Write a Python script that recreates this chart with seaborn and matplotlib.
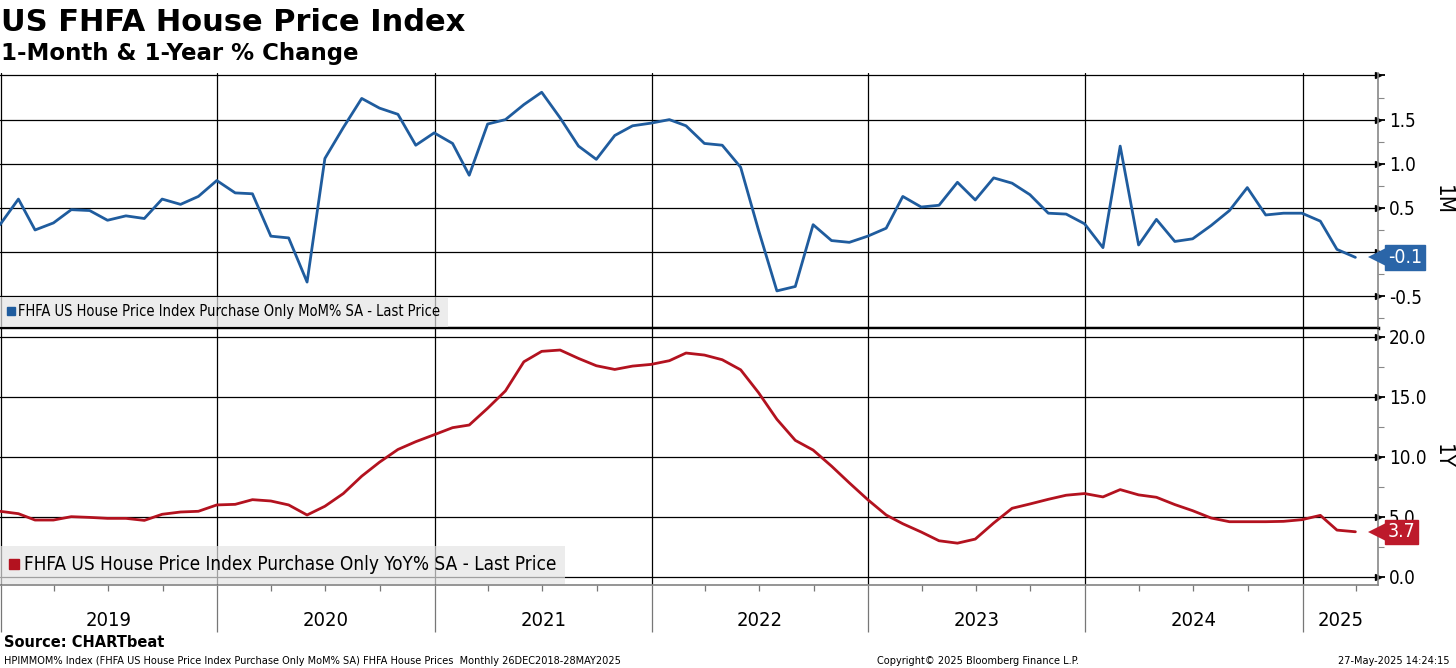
import pandas as pd
import matplotlib
matplotlib.use('Agg')
import matplotlib.pyplot as plt
import matplotlib.dates as mdates
import matplotlib.transforms as mtransforms
from matplotlib import font_manager as fm
from matplotlib.lines import Line2D
import seaborn as sns

# --- dados ---
meses = pd.date_range(start='2018-12-01', periods=76, freq='MS') + pd.offsets.MonthEnd(0)

mom = [0.31, 0.60, 0.25, 0.33, 0.48, 0.47, 0.36, 0.41, 0.38, 0.60, 0.54, 0.63,
       0.81, 0.67, 0.66, 0.18, 0.16, -0.34, 1.06, 1.41, 1.74, 1.63, 1.56, 1.21,
       1.35, 1.23, 0.87, 1.45, 1.50, 1.67, 1.81, 1.52, 1.20, 1.05, 1.32, 1.43,
       1.46, 1.50, 1.43, 1.23, 1.21, 0.96, 0.25, -0.44, -0.39, 0.31, 0.13, 0.11,
       0.18, 0.27, 0.63, 0.51, 0.53, 0.79, 0.59, 0.84, 0.78, 0.65, 0.44, 0.43,
       0.32, 0.05, 1.20, 0.08, 0.37, 0.12, 0.15, 0.30, 0.47, 0.73, 0.42, 0.44,
       0.44, 0.35, 0.03, -0.06]

yoy = [5.45, 5.25, 4.72, 4.72, 5.00, 4.94, 4.86, 4.86, 4.69, 5.20, 5.39, 5.45,
       5.98, 6.03, 6.42, 6.31, 5.98, 5.14, 5.87, 6.93, 8.38, 9.55, 10.61, 11.26,
       11.84, 12.43, 12.65, 14.05, 15.50, 17.93, 18.80, 18.91, 18.21, 17.60, 17.29, 17.57,
       17.71, 18.02, 18.66, 18.49, 18.10, 17.26, 15.36, 13.13, 11.37, 10.56, 9.22, 7.82,
       6.42, 5.14, 4.41, 3.72, 2.99, 2.79, 3.13, 4.47, 5.70, 6.06, 6.45, 6.79,
       6.93, 6.65, 7.26, 6.82, 6.62, 6.01, 5.50, 4.89, 4.58, 4.58, 4.58, 4.61,
       4.75, 5.11, 3.88, 3.74]

anos = [2019, 2020, 2021, 2022, 2023, 2024, 2025]
ticks_mom = [-0.5, 0.0, 0.5, 1.0, 1.5, 2.0]
ticks_yoy = [0.0, 5.0, 10.0, 15.0, 20.0]

serie_mom = 'FHFA US House Price Index Purchase Only MoM% SA - Last Price'
serie_yoy = 'FHFA US House Price Index Purchase Only YoY% SA - Last Price'

AZUL = '#1f5c9e'
AZUL_TAG = '#2a65a8'
VERMELHO = '#b3121f'
VERMELHO_TAG = '#bd1a2b'

df = pd.DataFrame({'data': meses, 'mom': mom, 'yoy': yoy})

sns.set_theme(style='white')
plt.rcParams['font.family'] = ['DejaVu Sans']
plt.rcParams['text.color'] = 'black'
plt.rcParams['axes.labelcolor'] = 'black'
plt.rcParams['xtick.color'] = 'black'
plt.rcParams['ytick.color'] = 'black'


def fonte_estreita():
    nomes = [(f.name, str(f.stretch)) for f in fm.fontManager.ttflist]
    for n, s in nomes:
        if n == 'Liberation Sans Narrow':
            return {'family': 'Liberation Sans Narrow'}
    for n, s in nomes:
        if n == 'DejaVu Sans' and 'condensed' in s:
            return {'family': 'DejaVu Sans', 'stretch': 'condensed'}
    return {'family': 'DejaVu Sans'}


NARROW = fonte_estreita()

x0 = pd.Timestamp('2018-12-31')
x1 = pd.Timestamp('2025-05-08')

fig = plt.figure(figsize=(14.56, 6.68), dpi=100)
ax1 = fig.add_axes([0.0, 0.509, 0.9464, 0.382])
ax2 = fig.add_axes([0.0, 0.1243, 0.9464, 0.3847])

sns.lineplot(data=df, x='data', y='mom', ax=ax1, color=AZUL, lw=2)
sns.lineplot(data=df, x='data', y='yoy', ax=ax2, color=VERMELHO, lw=2)


def estilo(ax, ylim, major, minor, labels):
    ax.set_xlim(x0, x1)
    ax.set_ylim(*ylim)
    ax.set_xlabel('')
    ax.set_ylabel('')
    ax.yaxis.tick_right()
    ax.set_yticks(major)
    ax.set_yticks(minor, minor=True)
    ax.set_yticklabels(labels, **NARROW)
    ax.tick_params(axis='y', which='major', direction='out', length=5, width=1.3,
                   color='black', labelsize=13.5, pad=3, right=True, left=False)
    ax.tick_params(axis='y', which='minor', direction='out', length=4, width=0.8,
                   color='#888888', right=True, left=False)
    ax.grid(True, axis='y', which='major', color='black', lw=0.9)
    ax.xaxis.set_major_locator(mdates.YearLocator())
    ax.xaxis.set_minor_locator(mdates.MonthLocator(bymonth=[1, 4, 7, 10]))
    ax.grid(True, axis='x', which='major', color='black', lw=0.9)
    ax.set_xticklabels([])
    for s in ['left', 'top']:
        ax.spines[s].set_visible(False)
    ax.spines['right'].set_color('#888888')
    ax.spines['right'].set_linewidth(1.2)
    # setas nos ticks principais
    tr = mtransforms.blended_transform_factory(ax.transAxes, ax.transData)
    ax.plot([1.0] * len(major), major, ls='', marker='>', ms=4, color='black',
            transform=tr, clip_on=False)


# o 0.0 do painel de cima fica escondido atras da etiqueta do ultimo valor
estilo(ax1, (-0.86, 2.03), ticks_mom, [-0.75, -0.25, 0.25, 0.75, 1.25, 1.75],
       ['-0.5', '', '0.5', '1.0', '1.5', ''])
estilo(ax2, (-0.7, 20.75), ticks_yoy, [2.5, 7.5, 12.5, 17.5],
       ['0.0', '5.0', '10.0', '15.0', '20.0'])

ax1.tick_params(axis='x', which='both', length=0)
ax1.spines['bottom'].set_color('black')
ax1.spines['bottom'].set_linewidth(2.5)
ax2.spines['top'].set_visible(True)
ax2.spines['top'].set_color('black')
ax2.spines['top'].set_linewidth(1.0)
ax2.spines['bottom'].set_color('#888888')
ax2.tick_params(axis='x', which='major', direction='out', length=34, width=0.9,
                color='#777777', bottom=True)
ax2.tick_params(axis='x', which='minor', direction='out', length=4, width=0.9,
                color='#777777', bottom=True)

# rotulos dos anos
trx = mtransforms.blended_transform_factory(ax2.transData, ax2.transAxes)
for a in anos:
    ini = pd.Timestamp(f'{a}-01-01')
    fim = min(pd.Timestamp(f'{a + 1}-01-01'), x1)
    meio = ini + (fim - ini) / 2
    ax2.text(meio, -0.137, str(a), transform=trx, ha='center', va='center',
             fontsize=14.5, color='black', **NARROW)

# legendas
for ax, cor, nome, tam in [(ax1, AZUL, serie_mom, 10.5), (ax2, VERMELHO, serie_yoy, 13.6)]:
    h = [Line2D([], [], marker='s', ls='', color=cor, ms=tam * 0.55)]
    leg = ax.legend(h, [nome], loc='lower left', bbox_to_anchor=(0, 0.005),
                    borderaxespad=0, frameon=True, fancybox=False,
                    facecolor='#e4e4e4', framealpha=0.7, edgecolor='none',
                    handlelength=0.5, handletextpad=0.25, borderpad=0.5,
                    prop=dict(size=tam, **NARROW))

# etiquetas do ultimo valor
for ax, val, cor, txt in [(ax1, mom[-1], AZUL_TAG, f'{mom[-1]:.1f}'),
                          (ax2, yoy[-1], VERMELHO_TAG, f'{yoy[-1]:.1f}')]:
    tr = mtransforms.blended_transform_factory(ax.transAxes, ax.transData)
    ax.plot([1.0], [val], ls='', marker='<', ms=15, color=cor, transform=tr,
            clip_on=False, zorder=5, markeredgewidth=0)
    ax.annotate(txt, xy=(1.0, val), xycoords=tr, xytext=(7, 0),
                textcoords='offset points', ha='left', va='center', color='white',
                fontsize=14, annotation_clip=False, zorder=6,
                bbox=dict(boxstyle='square,pad=0.14', fc=cor, ec=cor), **NARROW)

ax1.text(1.047, 0.5, '1M', rotation=270, ha='center', va='center',
         transform=ax1.transAxes, fontsize=16, **NARROW)
ax2.text(1.047, 0.5, '1Y', rotation=270, ha='center', va='center',
         transform=ax2.transAxes, fontsize=16, **NARROW)

# titulos e rodape
fig.text(0.001, 1 - 31 / 668, 'US FHFA House Price Index', fontsize=22,
         fontweight='bold', va='baseline', ha='left')
fig.text(0.001, 1 - 60 / 668, '1-Month & 1-Year % Change', fontsize=16.5,
         fontweight='bold', va='baseline', ha='left')
fig.text(0.003, 1 - 647 / 668, 'Source: CHARTbeat', fontsize=10.5,
         fontweight='bold', va='baseline', ha='left')
fig.text(0.003, 1 - 664 / 668,
         'HPIMMOM% Index (FHFA US House Price Index Purchase Only MoM% SA) FHFA House Prices  Monthly 26DEC2018-28MAY2025',
         fontsize=7.8, va='baseline', ha='left', **NARROW)
fig.text(877 / 1456, 1 - 664 / 668, 'Copyright\u00a9 2025 Bloomberg Finance L.P.',
         fontsize=7.8, va='baseline', ha='left', **NARROW)
fig.text(1449 / 1456, 1 - 664 / 668, '27-May-2025 14:24:15',
         fontsize=7.8, va='baseline', ha='right', **NARROW)

fig.savefig('out.png', dpi=100)
